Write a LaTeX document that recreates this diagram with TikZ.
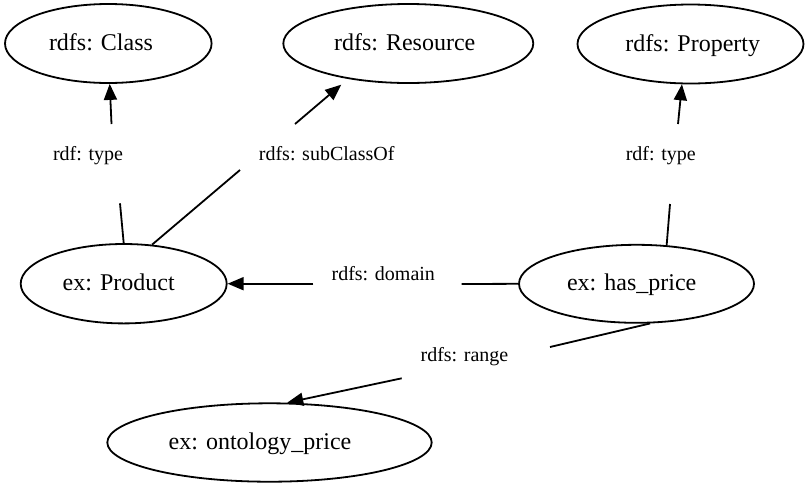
\documentclass[tikz,border=0pt]{standalone}
\usepackage{fontspec}
\setmainfont{Liberation Serif}
\usetikzlibrary{shapes.geometric,arrows.meta}
\begin{document}
\begin{tikzpicture}[x=1pt,y=-1pt,
  ent/.style={draw, ellipse, line width=1.8pt, inner sep=0pt},
  ename/.style={font=\fontsize{24}{28}\selectfont, text height=16pt, text depth=2pt, inner sep=0pt},
  rel/.style={font=\fontsize{20}{24}\selectfont, anchor=base, inner sep=0pt},
  link/.style={line width=1.8pt},
  arr/.style={line width=1.8pt, -{Triangle[length=16pt,width=13pt]}}
]
\useasboundingbox (0,0) rectangle (805,483);

% classes and properties
\node[ent, minimum width=206.6pt, minimum height=79pt,
      label={[ename, xshift=-7.3pt]center:rdfs: Class}] (cls) at (108.3,43.5) {};
\node[ent, minimum width=250pt, minimum height=79pt,
      label={[ename, xshift=-3.6pt]center:rdfs: Resource}] (res) at (408.3,43.5) {};
\node[ent, minimum width=226pt, minimum height=79pt,
      label={[ename, xshift=2.3pt]center:rdfs: Property}] (prop) at (690.5,44) {};
\node[ent, minimum width=206pt, minimum height=79.4pt,
      label={[ename, xshift=-5pt]center:ex: Product}] (prod) at (123.7,283.7) {};
\node[ent, minimum width=235pt, minimum height=78pt,
      label={[ename, xshift=-4.8pt]center:ex: has\_price}] (hp) at (636.5,283.8) {};
\node[ent, minimum width=324.4pt, minimum height=78.4pt,
      label={[ename, xshift=-9.5pt]center:ex: ontology\_price}] (onto) at (269.5,442.5) {};

% edge labels
\node[rel] (l1) at (88,160.7) {rdf: type};
\node[rel] (l2) at (326.7,160.7) {rdfs: subClassOf};
\node[rel] (l3) at (660.8,160.7) {rdf: type};
\node[rel] (l4) at (383.3,280.7) {rdfs: domain};
\node[rel] (l5) at (464.5,361.7) {rdfs: range};

% ends of the edge pieces on either side of each label
\coordinate (a1) at (120,203.3);   \coordinate (b1) at (111.5,124);
\coordinate (a2) at (240,170);     \coordinate (b2) at (295,124);
\coordinate (a3) at (670,204);     \coordinate (b3) at (678,124);
\coordinate (a4) at (461.7,284);   \coordinate (b4) at (313.3,283.7);
\coordinate (a5) at (550,347);     \coordinate (b5) at (401.7,378.3);

% rdf:type  Product -> Class
\draw[link] (prod.north) -- (a1);
\draw[arr] (b1) -- (cls.-88);
% rdfs:subClassOf  Product -> Resource
\draw[link] (prod.54) -- (a2);
\draw[arr] (b2) -- ([yshift=-7pt]res.207);
% rdf:type  has_price -> Property
\draw[link] (hp.52) -- (a3);
\draw[arr] (b3) -- (prop.258);
% rdfs:domain  has_price -> Product
\draw[link] (hp.west) -- (a4);
\draw[arr] (b4) -- (prod.east);
% rdfs:range  has_price -> ontology_price
\draw[link] (hp.-71) -- (a5);
\draw[arr] (b5) -- (onto.66);
\end{tikzpicture}
\end{document}
